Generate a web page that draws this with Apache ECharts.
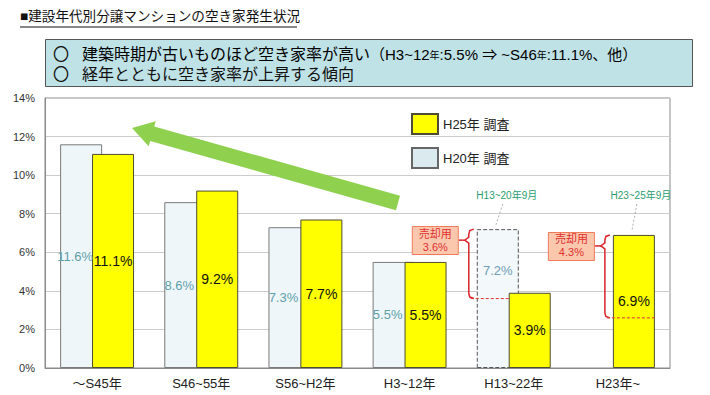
<!DOCTYPE html>
<html><head><meta charset="utf-8">
<script src="https://cdn.jsdelivr.net/npm/echarts@6/dist/echarts.min.js"></script>
<style>html,body{margin:0;padding:0;background:#fff}#c{width:710px;height:395px}</style>
</head><body><div id="c"></div>
<script>
// ---- data ----
const categories = ['～S45年', 'S46~55年', 'S56~H2年', 'H3~12年', 'H13~22年', 'H23年~'];
const h25Values = [11.1, 9.2, 7.7, 5.5, 3.9, 6.9];
const h20Values = [11.6, 8.6, 7.3, 5.5, 7.2, null];
const h20Partial = [false, false, false, false, true, false];
const saleShares = [null, null, null, null, 3.6, 4.3];
const saleBase = [null, null, null, null, 'h20', 'h25'];
const periodNotes = ['', '', '', '', 'H13~20年9月', 'H23~25年9月'];
const yMin = 0, yMax = 14, yStep = 2;
const seriesNames = ['H25年 調査', 'H20年 調査'];
const titleText = '■建設年代別分譲マンションの空き家発生状況';
const noteLine1Main = '建築時期が古いものほど空き家率が高い';
const noteLine2 = '経年とともに空き家率が上昇する傾向';

const FONT = "'Liberation Sans','Noto Sans CJK JP',sans-serif";
const BAR_W = 42;
const chart = echarts.init(document.getElementById('c'), null, {renderer: 'svg'});

const h20Data = h20Values.map((v, i) => {
  if (v == null) return '-';
  if (h20Partial[i]) {
    return {value: v,
      itemStyle: {color: '#f3f8fa', borderColor: '#555', borderType: 'dashed', borderWidth: 1},
      label: {offset: [0, -28], color: '#6f9db3'}};
  }
  return v;
});

chart.setOption({
  animation: false,
  textStyle: {fontFamily: FONT},
  grid: {left: 45, right: 40, top: 98, bottom: 27, show: true, borderColor: '#8a8a8a', borderWidth: 1},
  legend: {
    orient: 'vertical', left: 406, top: 108, itemWidth: 26, itemHeight: 20, itemGap: 12,
    textStyle: {fontSize: 13, color: '#222', fontFamily: FONT},
    data: [
      {name: seriesNames[0], icon: 'rect'},
      {name: seriesNames[1], icon: 'rect', itemStyle: {color: '#dbeaef', borderColor: '#666'}}
    ]
  },
  xAxis: {
    type: 'category', data: categories,
    axisLine: {lineStyle: {color: '#8a8a8a'}}, axisTick: {show: false},
    axisLabel: {fontSize: 13, color: '#222', margin: 9, fontFamily: FONT}
  },
  yAxis: {
    type: 'value', min: yMin, max: yMax, interval: yStep,
    axisLine: {show: true, lineStyle: {color: '#8a8a8a'}}, axisTick: {show: false},
    axisLabel: {formatter: '{value}%', fontSize: 11, color: '#333', margin: 10, fontFamily: FONT},
    splitLine: {lineStyle: {color: '#cccccc'}}
  },
  series: [
    {name: seriesNames[1], type: 'bar', barWidth: BAR_W, barGap: '-24%', data: h20Data,
      itemStyle: {color: '#eef6f9', borderColor: '#7a7a7a', borderWidth: 1},
      label: {show: true, position: 'inside', offset: [-6, 0], formatter: p => p.value + '%',
        color: '#5f9faa', fontSize: 13, fontFamily: FONT}},
    {name: seriesNames[0], type: 'bar', barWidth: BAR_W, barGap: '-24%', data: h25Values,
      itemStyle: {color: '#ffff00', borderColor: '#4d4d33', borderWidth: 1},
      label: {show: true, position: 'inside', formatter: p => p.value + '%',
        color: '#111', fontSize: 14, fontFamily: FONT}}
  ]
});

// ---- annotations ----
const g = [];
g.push({type: 'text', left: 20, top: 10, z: 10, style: {text: titleText, font: '13.6px ' + FONT, fill: '#111'}});
g.push({type: 'line', z: 10, shape: {x1: 20, y1: 27, x2: 297, y2: 27}, style: {stroke: '#111', lineWidth: 1}});
g.push({type: 'rect', z: 10, shape: {x: 45.5, y: 39.5, width: 647, height: 47}, style: {fill: '#bfe2e6', stroke: '#555', lineWidth: 1}});
g.push({type: 'text', z: 11, x: 53, y: 46, style: {text: '〇', font: '16px ' + FONT, fill: '#111'}});
g.push({type: 'text', z: 11, x: 53, y: 66, style: {text: '〇', font: '16px ' + FONT, fill: '#111'}});
g.push({type: 'text', z: 11, x: 82, y: 46, style: {
  text: '{m|' + noteLine1Main + '}{p|（H3~12}{s|年}{p|:5.5% ⇒ ~S46}{s|年}{p|:11.1%、他）}',
  rich: {m: {fontSize: 16, fontFamily: FONT, color: '#111'},
         p: {fontSize: 15, fontFamily: FONT, color: '#111'},
         s: {fontSize: 10, fontFamily: FONT, color: '#111', padding: [3, 0, 0, 0]}}}});
g.push({type: 'text', z: 11, x: 82, y: 66, style: {text: noteLine2, font: '16px ' + FONT, fill: '#111'}});

// green arrow
(function () {
  const T = [398, 203], P = [132, 128];
  const dx = P[0] - T[0], dy = P[1] - T[1], L = Math.hypot(dx, dy);
  const u = [dx / L, dy / L], n = [-u[1], u[0]];
  const hl = 21, hw = 13, w = 7.5;
  const B = [P[0] - u[0] * hl, P[1] - u[1] * hl];
  const pt = (o, k) => [o[0] + n[0] * k, o[1] + n[1] * k];
  g.push({type: 'polygon', z: 9, shape: {points: [pt(T, w), pt(B, w), pt(B, hw), P, pt(B, -hw), pt(B, -w), pt(T, -w)]},
    style: {fill: '#8fd14f'}});
})();

const yPix = v => chart.convertToPixel({yAxisIndex: 0}, v);
const xPix = i => chart.convertToPixel({xAxisIndex: 0}, i);
const off = BAR_W * (1 - 0.24) / 2;
saleShares.forEach((s, i) => {
  if (s == null) return;
  const c = xPix(i);
  const h20L = c - off - BAR_W / 2, h20R = c - off + BAR_W / 2;
  const h25L = c + off - BAR_W / 2, h25R = c + off + BAR_W / 2;
  const topVal = saleBase[i] === 'h20' ? h20Values[i] : h25Values[i];
  const botVal = +(topVal - s).toFixed(2);
  const baseL = saleBase[i] === 'h20' ? h20L : h25L;
  let endX = saleBase[i] === 'h20' ? h20R : h25R;
  if (saleBase[i] === 'h20' && h25Values[i] >= botVal) endX = h25L;
  const yt = yPix(topVal), yb = yPix(botVal);
  const bx = baseL - 8, yp = yt + 11;
  g.push({type: 'polyline', z: 12, shape: {points: [[bx + 5, yt], [bx + 1, yt + 1.5], [bx, yt + 5], [bx, yp - 3], [bx - 4, yp], [bx, yp + 3], [bx, yb - 5], [bx + 1, yb - 1.5], [bx + 5, yb]]},
    style: {stroke: '#d9262b', lineWidth: 1.5, fill: null}});
  g.push({type: 'line', z: 12, shape: {x1: bx + 2, y1: yb, x2: endX, y2: yb}, style: {stroke: '#e0302f', lineWidth: 1, lineDash: [3, 2]}});
  g.push({type: 'line', z: 12, shape: {x1: bx - 10, y1: yp, x2: bx - 4, y2: yp}, style: {stroke: '#d9262b', lineWidth: 1.5}});
  g.push({type: 'rect', z: 12, shape: {x: bx - 56.5, y: Math.round(yp - 14) + 0.5, width: 46, height: 28}, style: {fill: '#fbc8ae', stroke: '#f07a5a', lineWidth: 1}});
  g.push({type: 'text', z: 13, x: bx - 33.5, y: yp, style: {text: '売却用\n' + s + '%', align: 'center', verticalAlign: 'middle', font: '11px ' + FONT, fill: '#e0302f', lineHeight: 13}});
  const barC = saleBase[i] === 'h20' ? c - off : c + off;
  const noteX = barC + (saleBase[i] === 'h20' ? 9 : 7);
  g.push({type: 'text', z: 13, x: noteX, y: 195, style: {text: periodNotes[i], align: 'center', verticalAlign: 'middle', font: '10px ' + FONT, fill: '#2a9d6f'}});
  g.push({type: 'line', z: 12, shape: {x1: noteX - 4, y1: 204, x2: barC - 2, y2: yt - 4}, style: {stroke: '#999', lineWidth: 0.8, lineDash: [2, 2]}});
});

chart.setOption({graphic: g});
</script>
</body></html>
